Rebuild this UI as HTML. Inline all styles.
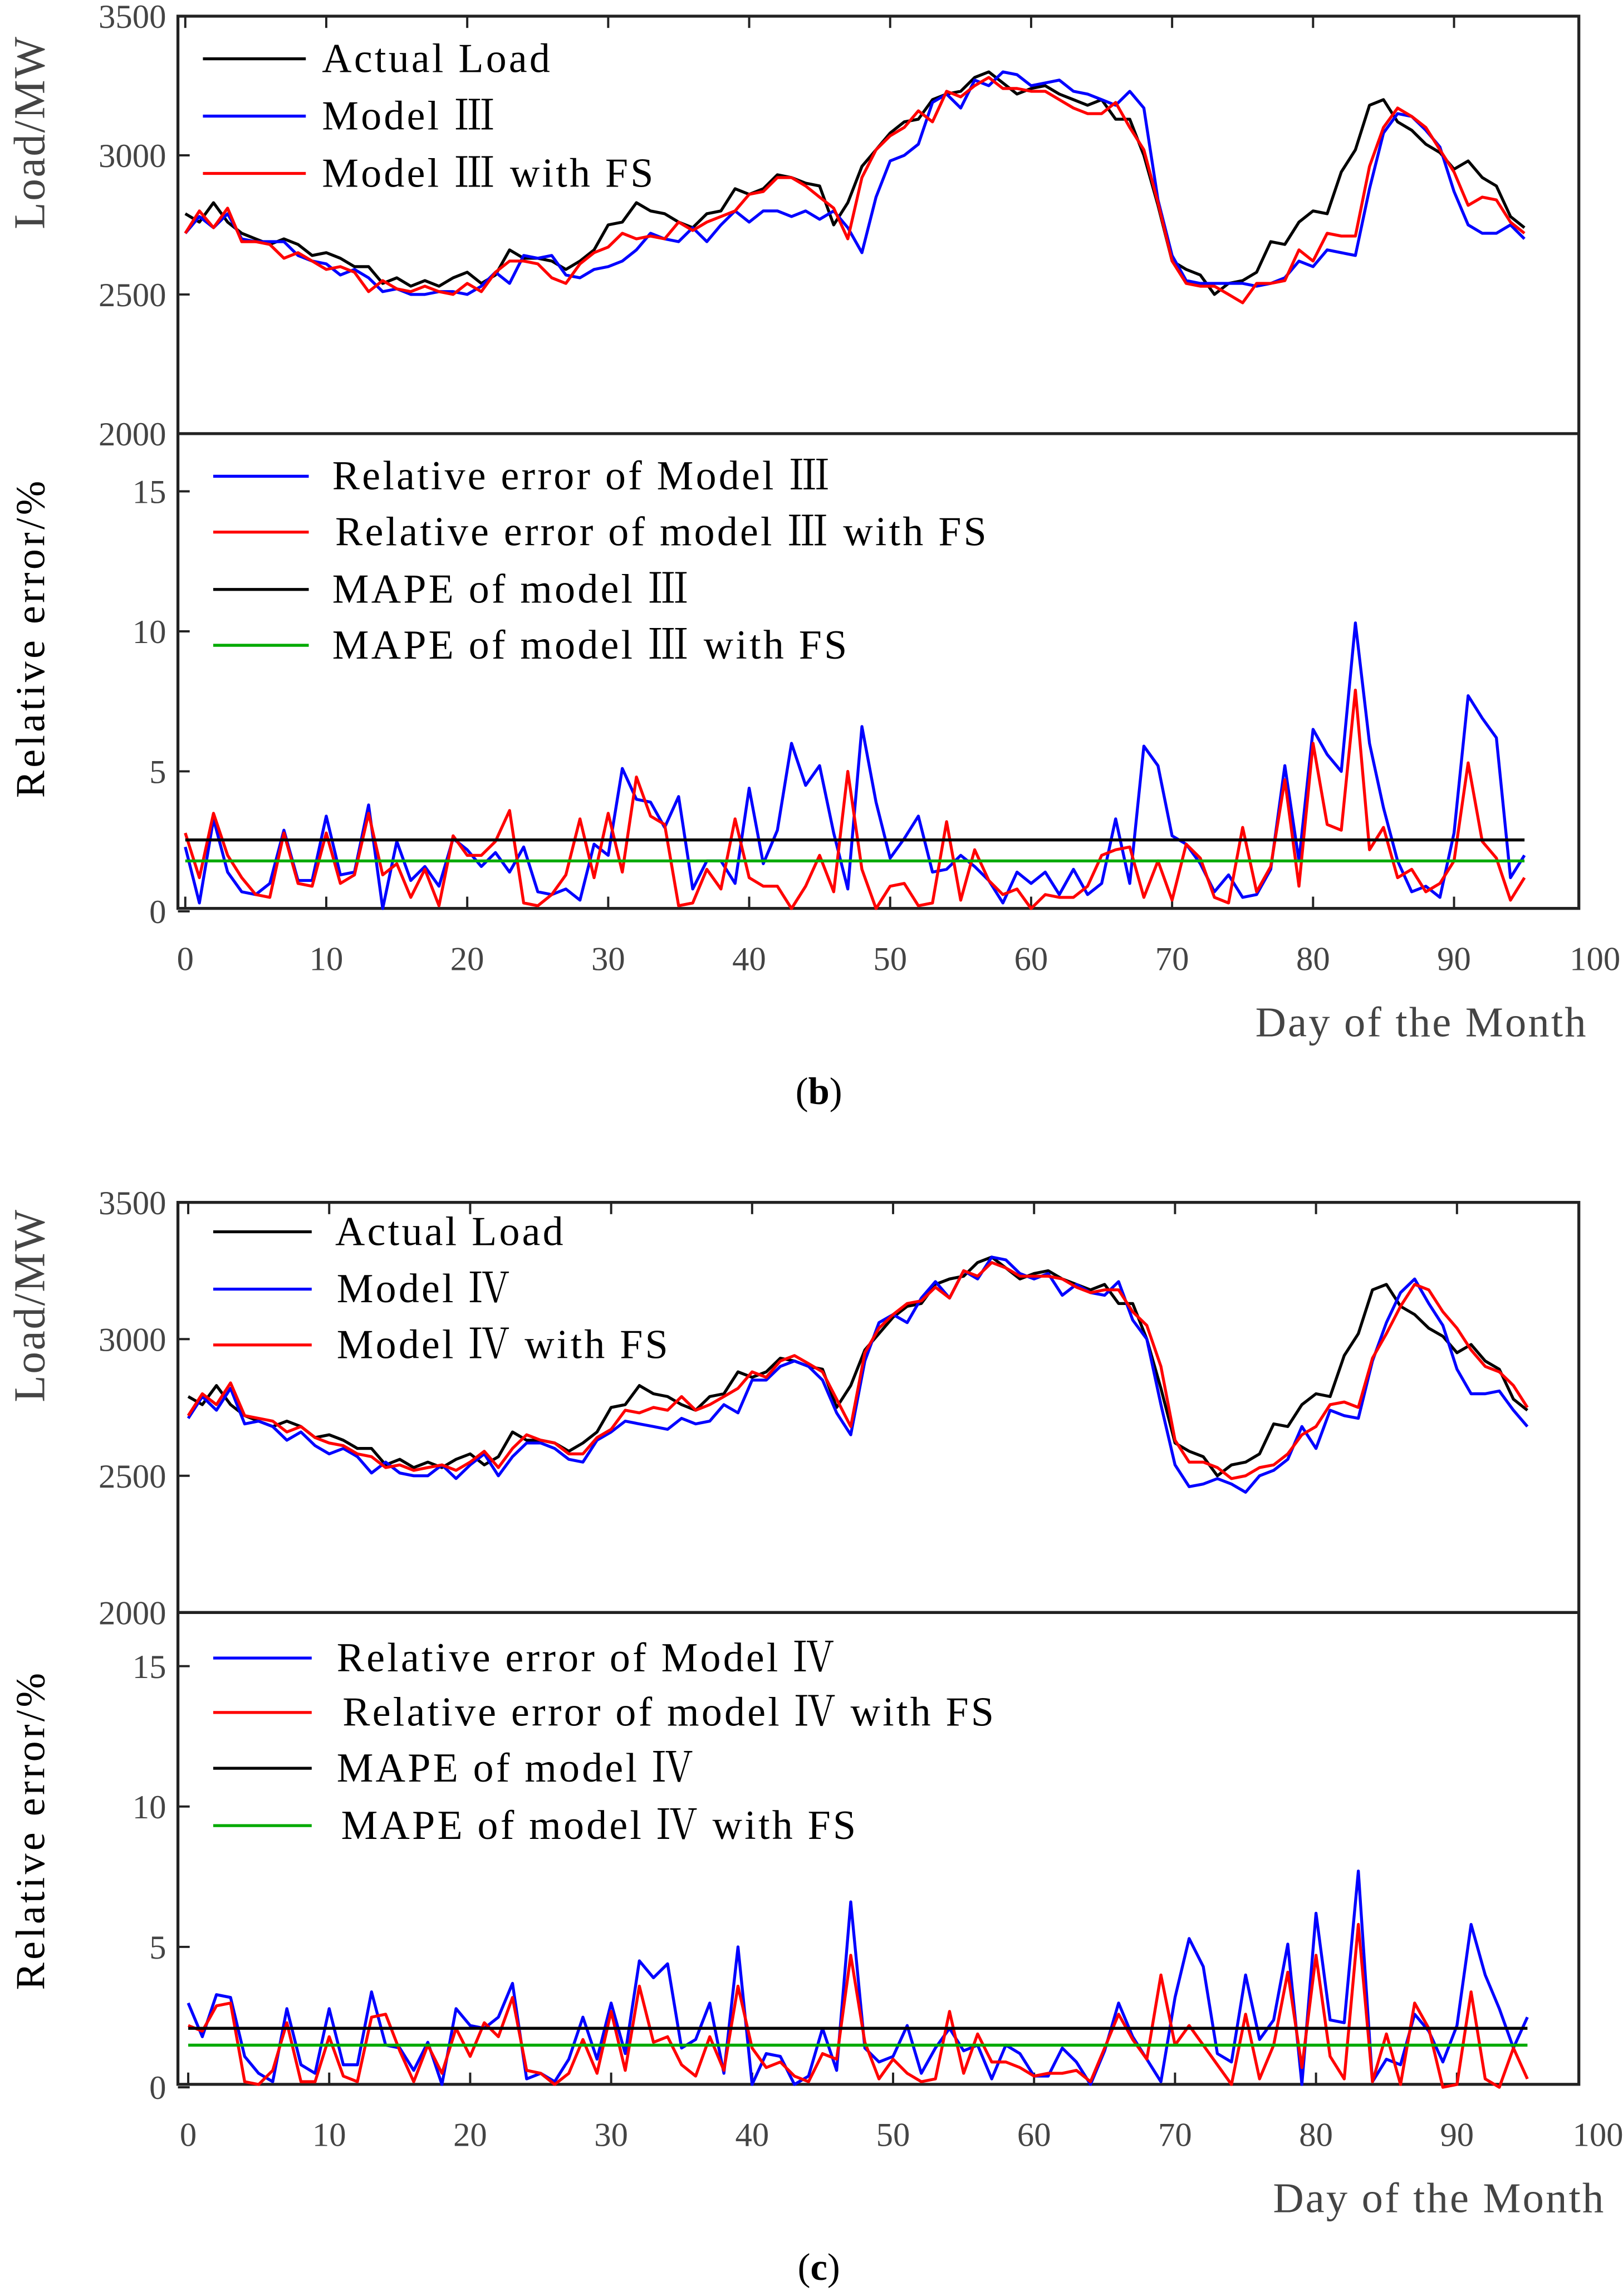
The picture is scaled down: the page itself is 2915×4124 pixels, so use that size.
<!DOCTYPE html>
<html><head><meta charset="utf-8">
<style>
html,body{margin:0;padding:0;background:#fff;}
svg{display:block;}
text{font-family:"Liberation Serif","Noto Serif CJK SC",serif;}
</style></head>
<body>
<svg id="chart" width="2915" height="4124" viewBox="0 0 1104 1562" xmlns="http://www.w3.org/2000/svg"></svg>
<script>
// ---------- data ----------
const days = [];
for (let i = 0; i < 96; i++) days.push(i);
const xTicks = [0,10,20,30,40,50,60,70,80,90,100];
const loadTicks = [2000,2500,3000,3500];
const errTicks = [0,5,10,15];

const actualLoad = [2790,2760,2830,2760,2720,2700,2680,2700,2680,2640,
2650,2630,2600,2600,2540,2560,2530,2550,2530,2560,
2580,2540,2570,2660,2630,2630,2620,2590,2620,2660,
2750,2760,2830,2800,2790,2760,2740,2790,2800,2880,
2860,2880,2930,2920,2900,2890,2750,2830,2960,3020,
3080,3120,3130,3200,3220,3230,3280,3300,3260,3220,
3240,3250,3220,3200,3180,3200,3130,3130,3000,2820,
2620,2590,2570,2500,2540,2550,2580,2690,2680,2760,
2800,2790,2940,3020,3180,3200,3120,3090,3040,3010,
2950,2980,2920,2890,2780,2740];

const model3Load = [2720,2780,2740,2790,2700,2690,2690,2690,2640,2620,
2610,2570,2590,2560,2510,2520,2500,2500,2510,2510,
2500,2530,2580,2540,2640,2630,2640,2570,2560,2590,
2600,2620,2660,2720,2700,2690,2740,2690,2750,2800,
2760,2800,2800,2780,2800,2770,2800,2740,2650,2850,
2980,3000,3040,3190,3220,3170,3270,3250,3300,3290,
3250,3260,3270,3230,3220,3200,3180,3230,3170,2840,
2640,2550,2540,2540,2540,2540,2530,2540,2560,2620,
2600,2660,2650,2640,2880,3080,3150,3140,3090,3030,
2870,2750,2720,2720,2750,2700];

const model3FsLoad = [2720,2800,2740,2810,2690,2690,2680,2630,2650,2620,
2590,2600,2580,2510,2550,2520,2510,2530,2510,2500,
2540,2510,2580,2620,2620,2610,2560,2540,2610,2650,
2670,2720,2700,2710,2700,2760,2730,2760,2780,2800,
2860,2870,2920,2920,2890,2850,2810,2700,2920,3020,
3070,3100,3160,3120,3230,3210,3250,3280,3240,3240,
3230,3230,3200,3170,3150,3150,3190,3100,3020,2830,
2620,2540,2530,2530,2500,2470,2540,2540,2550,2660,
2620,2720,2710,2710,2960,3100,3170,3140,3100,3020,
2940,2820,2850,2840,2760,2720];

const model3Err = [2.3,0.3,3.3,1.4,0.7,0.6,1.0,2.9,1.1,1.1,
3.4,1.3,1.4,3.8,0.1,2.5,1.1,1.6,0.9,2.6,
2.2,1.6,2.1,1.4,2.3,0.7,0.6,0.8,0.4,2.4,
2.0,5.1,4.0,3.9,3.0,4.1,0.8,1.8,1.8,1.0,
4.4,1.7,2.9,6.0,4.5,5.2,2.8,0.8,6.6,3.9,
1.9,2.6,3.4,1.4,1.5,2.0,1.6,1.1,0.3,1.4,
1.0,1.4,0.6,1.5,0.6,1.0,3.3,1.0,5.9,5.2,
2.7,2.4,1.7,0.7,1.3,0.5,0.6,1.5,5.2,1.8,
6.5,5.6,5.0,10.3,6.0,3.7,1.8,0.7,0.9,0.5,
2.8,7.7,6.9,6.2,1.2,2.0];

const model3FsErr = [2.8,1.2,3.5,2.0,1.2,0.6,0.5,2.8,1.0,0.9,
2.8,1.0,1.3,3.5,1.3,1.7,0.5,1.5,0.2,2.7,
2.0,2.0,2.5,3.6,0.3,0.2,0.6,1.3,3.3,1.2,
3.5,1.4,4.8,3.4,3.1,0.2,0.3,1.5,0.8,3.3,
1.2,0.9,0.9,0.1,0.9,2.0,0.7,5.0,1.5,0.1,
0.9,1.0,0.2,0.3,3.2,0.4,2.2,1.1,0.6,0.8,
0.1,0.6,0.5,0.5,0.9,2.0,2.2,2.3,0.5,1.8,
0.4,2.4,1.9,0.5,0.3,3.0,0.7,1.6,4.7,0.9,
6.0,3.1,2.9,7.9,2.2,3.0,1.2,1.5,0.7,1.0,
1.8,5.3,2.5,1.9,0.4,1.2];

const mape3 = [2.55];
const mape3Fs = [1.8];

const model4Load = [2710,2790,2740,2820,2690,2700,2680,2630,2660,2610,
2580,2600,2570,2510,2550,2510,2500,2500,2540,2490,
2540,2580,2500,2570,2620,2620,2600,2560,2550,2630,
2660,2700,2690,2680,2670,2710,2690,2700,2760,2730,
2850,2850,2900,2920,2900,2850,2730,2650,2920,3060,
3090,3060,3150,3210,3150,3250,3220,3300,3290,3240,
3220,3240,3160,3200,3170,3160,3210,3070,3000,2760,
2540,2460,2470,2490,2470,2440,2500,2520,2560,2680,
2600,2740,2720,2710,2920,3060,3170,3220,3130,3050,
2890,2800,2800,2810,2740,2680];

const model4FsLoad = [2720,2800,2760,2840,2720,2710,2700,2660,2680,2640,
2620,2610,2580,2570,2530,2540,2520,2530,2540,2520,
2550,2590,2530,2600,2650,2630,2620,2580,2580,2640,
2670,2740,2730,2750,2740,2790,2740,2760,2790,2820,
2880,2860,2920,2940,2910,2880,2780,2680,2950,3040,
3090,3130,3140,3190,3150,3250,3230,3280,3260,3230,
3230,3230,3220,3190,3170,3180,3180,3100,3050,2900,
2630,2550,2550,2530,2490,2500,2530,2540,2580,2650,
2680,2760,2770,2750,2930,3020,3120,3200,3180,3100,
3040,2960,2900,2880,2830,2750];

const model4Err = [3.0,1.8,3.3,3.2,1.1,0.5,0.2,2.8,0.8,0.5,
2.8,0.8,0.8,3.4,1.5,1.4,0.6,1.6,0.1,2.8,
2.2,2.1,2.5,3.7,0.3,0.5,0.2,1.0,2.5,1.0,
3.0,1.2,4.5,3.9,4.4,1.4,1.7,3.0,0.5,5.0,
0.1,1.2,1.1,0.1,0.4,2.1,0.6,6.6,1.4,0.9,
1.1,2.2,0.5,1.4,2.1,1.3,1.5,0.3,1.5,1.2,
0.4,0.4,1.4,0.9,0.1,1.3,3.0,1.8,1.0,0.2,
3.2,5.3,4.3,1.2,0.9,4.0,1.7,2.4,5.1,0.1,
6.2,2.4,2.3,7.7,0.2,1.0,0.8,2.6,2.0,0.9,
2.2,5.8,4.0,2.8,1.4,2.5];

const model4FsErr = [2.2,2.0,2.9,3.0,0.2,0.1,0.6,2.3,0.2,0.2,
1.8,0.4,0.2,2.5,2.6,1.3,0.2,1.5,0.5,2.1,
1.1,2.3,1.8,3.2,0.6,0.5,0.1,0.5,1.7,0.5,
2.7,0.6,3.6,1.6,1.8,0.8,0.4,1.8,0.6,3.6,
1.4,0.7,0.9,0.4,0.2,1.2,1.0,4.7,1.6,0.3,
1.0,0.5,0.2,0.3,2.7,0.5,1.9,0.9,0.9,0.7,
0.4,0.5,0.5,0.6,0.2,1.4,2.6,1.7,1.0,4.0,
1.5,2.2,1.5,0.8,0.1,2.6,0.3,1.5,4.1,0.7,
4.7,1.1,0.3,5.8,0.2,1.9,0.1,3.0,2.1,0.0,
0.1,3.4,0.3,0.0,1.4,0.3];

const mape4 = [2.1];
const mape4Fs = [1.5];

// ---------- drawing ----------
const NS = "http://www.w3.org/2000/svg";
const svg = document.getElementById("chart");
function mk(tag, attrs, parent) {
  const e = document.createElementNS(NS, tag);
  for (const k in attrs) e.setAttribute(k, attrs[k]);
  (parent || svg).appendChild(e);
  return e;
}
function txt(s, x, y, size, fill, anchor, parent, rot, ls) {
  const t = mk("text", {x: x, y: y, "font-size": size, fill: fill, "text-anchor": anchor || "start"}, parent);
  if (ls) t.setAttribute("letter-spacing", ls);
  if (rot) t.setAttribute("transform", "rotate(-90 " + x + " " + y + ")");
  t.textContent = s;
  return t;
}

function panel(cfg) {
  const g = mk("g", {});
  
  
  const L = 121, R = 1074;
  const x0 = cfg.x0, xs = 9.59;
  const xScale = d => x0 + d * xs;
  const yLoad = v => cfg.loadBottom - (v - 2000) / 1500 * (cfg.loadBottom - cfg.top);
  const yErr = v => cfg.errZero - v * cfg.errPer;

  const frame = mk("rect", {x: L, y: cfg.top, width: R - L, height: cfg.bottom - cfg.top, fill: "none", stroke: "#222", "stroke-width": 2}, g);
  
  
  const div = mk("line", {x1: L, x2: R, y1: cfg.loadBottom, y2: cfg.loadBottom, stroke: "#222", "stroke-width": 2}, g);
  
  

  xTicks.forEach(t => {
    const x = xScale(t);
    if (x > L + 2 && x < R - 2) {
      mk("line", {x1: x, x2: x, y1: cfg.top, y2: cfg.top + 8, stroke: "#222", "stroke-width": 1.5}, g);
      mk("line", {x1: x, x2: x, y1: cfg.bottom, y2: cfg.bottom - 8, stroke: "#222", "stroke-width": 1.5}, g);
    }
    const tl = txt(String(t), x, cfg.bottom + 42, 23, "#444", "middle", g);
    
    
  });
  loadTicks.forEach(t => {
    const y = yLoad(t);
    mk("line", {x1: L, x2: L + 8, y1: y, y2: y, stroke: "#222", "stroke-width": 1.5}, g);
    const tl = txt(String(t), 113, y + 8, 23, "#444", "end", g);
    
    
  });
  errTicks.forEach(t => {
    const y = yErr(t);
    mk("line", {x1: L, x2: L + 8, y1: y, y2: y, stroke: "#222", "stroke-width": 1.5}, g);
    const tl = txt(String(t), 113, y + 8, 23, "#444", "end", g);
    
    
  });

  function series(arr, yf, color, name) {
    const pts = arr.map((v, i) => xScale(days[i]).toFixed(1) + "," + yf(v).toFixed(1)).join(" ");
    const p = mk("polyline", {points: pts, fill: "none", stroke: color, "stroke-width": 2, "stroke-linejoin": "round"}, g);
    
    
  }
  series(cfg.actual, yLoad, "#000", "actual-load-line");
  series(cfg.mLoad, yLoad, "#0000ff", "model-load-line");
  series(cfg.fsLoad, yLoad, "#ff0000", "model-fs-load-line");
  series(cfg.mErr, yErr, "#0000ff", "model-error-line");
  series(cfg.fsErr, yErr, "#ff0000", "model-fs-error-line");
  const m1 = mk("line", {x1: xScale(0), x2: xScale(95), y1: yErr(cfg.mape[0]), y2: yErr(cfg.mape[0]), stroke: "#000", "stroke-width": 2}, g);
  
  
  const m2 = mk("line", {x1: xScale(0), x2: xScale(95), y1: yErr(cfg.mapeFs[0]), y2: yErr(cfg.mapeFs[0]), stroke: "#00aa00", "stroke-width": 2}, g);
  
  

  cfg.leg1.forEach((e, i) => {
    const lg = mk("g", {}, g);
    
    
    mk("line", {x1: e.lx1, x2: e.lx2, y1: e.y, y2: e.y, stroke: e.c, "stroke-width": 2}, lg);
    txt(e.t, e.tx, e.y + 9, 28, "#000", "start", lg, false, 1.6);
  });

  const yl1 = txt("Load/MW", 30, cfg.loadLabelY, 30, "#444", "middle", g, true, 1);
  
  
  const yl2 = txt("Relative error/%", 30, cfg.errLabelY, 28, "#000", "middle", g, true, 2);
  
  
  const xl = txt("Day of the Month", cfg.xlabelX, cfg.bottom + 87, 29, "#444", "middle", g, false, 1.2);
  
  
  const cap = mk("text", {x: 557, y: cfg.capY, "font-size": 26, "text-anchor": "middle", fill: "#000"}, g);
  
  
  cap.innerHTML = '(<tspan font-weight="bold">' + cfg.letter + '</tspan>)';
}

panel({
  name: "panel-b", letter: "b", x0: 126, top: 11, loadBottom: 295, bottom: 618,
  errZero: 620, errPer: 19.05,
  actual: actualLoad, mLoad: model3Load, fsLoad: model3FsLoad, mErr: model3Err, fsErr: model3FsErr,
  mape: mape3, mapeFs: mape3Fs,
  loadLabelY: 90, errLabelY: 434, xlabelX: 967, capY: 751,
  leg1: [
    {t: "Actual Load", y: 40, lx1: 138, lx2: 208, tx: 219, c: "#000"},
    {t: "Model \u2162", y: 79, lx1: 138, lx2: 208, tx: 219, c: "#0000ff"},
    {t: "Model \u2162 with FS", y: 118, lx1: 138, lx2: 208, tx: 219, c: "#ff0000"},
    {t: "Relative error of Model \u2162", y: 324, lx1: 145, lx2: 210, tx: 226, c: "#0000ff"},
    {t: "Relative error of model \u2162  with FS", y: 362, lx1: 145, lx2: 210, tx: 228, c: "#ff0000"},
    {t: "MAPE of model \u2162", y: 401, lx1: 145, lx2: 210, tx: 226, c: "#000"},
    {t: "MAPE of model \u2162  with FS", y: 439, lx1: 145, lx2: 210, tx: 226, c: "#00aa00"}
  ]
});

panel({
  name: "panel-c", letter: "c", x0: 128, top: 818, loadBottom: 1097, bottom: 1418,
  errZero: 1420, errPer: 19.1,
  actual: actualLoad, mLoad: model4Load, fsLoad: model4FsLoad, mErr: model4Err, fsErr: model4FsErr,
  mape: mape4, mapeFs: mape4Fs,
  loadLabelY: 888, errLabelY: 1245, xlabelX: 979, capY: 1551,
  leg1: [
    {t: "Actual Load", y: 838, lx1: 145, lx2: 212, tx: 228, c: "#000"},
    {t: "Model \u2163", y: 877, lx1: 145, lx2: 212, tx: 229, c: "#0000ff"},
    {t: "Model \u2163 with FS", y: 915, lx1: 145, lx2: 212, tx: 229, c: "#ff0000"},
    {t: "Relative error of Model \u2163", y: 1128, lx1: 145, lx2: 212, tx: 229, c: "#0000ff"},
    {t: "Relative error of model \u2163 with FS", y: 1165, lx1: 145, lx2: 212, tx: 233, c: "#ff0000"},
    {t: "MAPE of model \u2163", y: 1203, lx1: 145, lx2: 212, tx: 229, c: "#000"},
    {t: "MAPE of model \u2163 with FS", y: 1242, lx1: 145, lx2: 212, tx: 232, c: "#00aa00"}
  ]
});
</script>
</body></html>
